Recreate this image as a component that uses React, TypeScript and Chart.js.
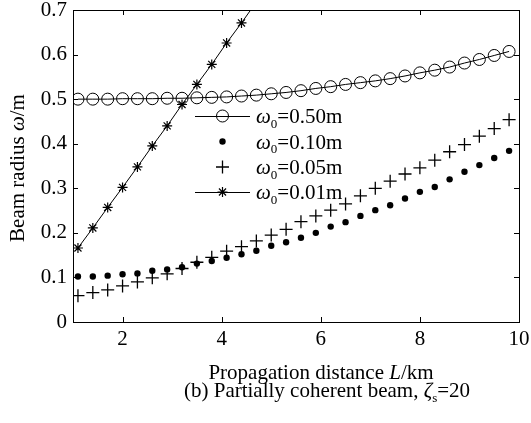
import React, { useEffect, useRef } from "react";
import { Chart, registerables } from "chart.js";

Chart.register(...registerables);

// Propagation distance L (km) at which each marker is plotted
const distances = [
  1.1, 1.4, 1.7, 2.0, 2.3, 2.6, 2.9, 3.2, 3.5, 3.8, 4.1, 4.4, 4.7, 5.0, 5.3,
  5.6, 5.9, 6.2, 6.5, 6.8, 7.1, 7.4, 7.7, 8.0, 8.3, 8.6, 8.9, 9.2, 9.5, 9.8,
];

// Beam radius (m) for each initial waist
const w050 = [
  0.5, 0.5, 0.5, 0.501, 0.501, 0.501, 0.502, 0.502, 0.503, 0.504, 0.505, 0.507,
  0.509, 0.512, 0.515, 0.519, 0.524, 0.528, 0.533, 0.537, 0.541, 0.546, 0.552,
  0.559, 0.565, 0.572, 0.581, 0.589, 0.598, 0.607,
];
const w010 = [
  0.102, 0.102, 0.104, 0.107, 0.109, 0.115, 0.118, 0.123, 0.131, 0.137, 0.144,
  0.152, 0.16, 0.171, 0.179, 0.189, 0.2, 0.214, 0.224, 0.238, 0.251, 0.262,
  0.277, 0.292, 0.303, 0.32, 0.337, 0.352, 0.368, 0.384,
];
const w005 = [
  0.059, 0.066, 0.072, 0.081, 0.09, 0.099, 0.108, 0.12, 0.134, 0.145, 0.159,
  0.169, 0.182, 0.195, 0.208, 0.225, 0.238, 0.251, 0.265, 0.283, 0.3, 0.316,
  0.332, 0.346, 0.363, 0.382, 0.398, 0.417, 0.434, 0.454,
];
const w001 = [
  0.166, 0.211, 0.257, 0.302, 0.348, 0.395, 0.44, 0.488, 0.533, 0.578, 0.626,
  0.671, 0.718,
];

const xTicks = [2, 4, 6, 8, 10];
const yTicks = [0, 0.1, 0.2, 0.3, 0.4, 0.5, 0.6, 0.7];
const legendValues = ["0.50m", "0.10m", "0.05m", "0.01m"];

type Seg = { t: string; it?: boolean; sub?: boolean };

const xTitle: Seg[] = [{ t: "Propagation distance " }, { t: "L", it: true }, { t: "/km" }];
const yTitle: Seg[] = [{ t: "Beam radius " }, { t: "ω", it: true }, { t: "/m" }];
const caption: Seg[] = [
  { t: "(b) Partially coherent beam, " },
  { t: "ζ", it: true },
  { t: "s", sub: true },
  { t: "=20" },
];

const FONT_FAMILY = '"Liberation Serif", "Times New Roman", Times, serif';
const FS = 21;

function fontFor(s: Seg, size: number) {
  return `${s.it ? "italic " : ""}${s.sub ? Math.round(size * 0.62) : size}px ${FONT_FAMILY}`;
}

function drawRich(
  ctx: CanvasRenderingContext2D,
  segs: Seg[],
  x: number,
  y: number,
  align: "left" | "center",
  size: number
) {
  ctx.save();
  ctx.textAlign = "left";
  ctx.textBaseline = "alphabetic";
  ctx.fillStyle = "#000";
  const widths = segs.map((s) => {
    ctx.font = fontFor(s, size);
    return ctx.measureText(s.t).width;
  });
  const total = widths.reduce((a, b) => a + b, 0);
  let cx = align === "center" ? x - total / 2 : x;
  segs.forEach((s, i) => {
    ctx.font = fontFor(s, size);
    ctx.fillText(s.t, cx, s.sub ? y + size * 0.22 : y);
    cx += widths[i];
  });
  ctx.restore();
}

function drawMarker(ctx: CanvasRenderingContext2D, kind: string, x: number, y: number) {
  ctx.save();
  ctx.strokeStyle = "#000";
  ctx.fillStyle = "#000";
  ctx.beginPath();
  if (kind === "circle") {
    ctx.lineWidth = 1;
    ctx.arc(x, y, 6, 0, Math.PI * 2);
    ctx.stroke();
  } else if (kind === "dot") {
    ctx.arc(x, y, 3.2, 0, Math.PI * 2);
    ctx.fill();
  } else if (kind === "plus") {
    ctx.lineWidth = 1.3;
    ctx.moveTo(x - 6.5, y);
    ctx.lineTo(x + 6.5, y);
    ctx.moveTo(x, y - 6.5);
    ctx.lineTo(x, y + 6.5);
    ctx.stroke();
  } else if (kind === "star") {
    ctx.lineWidth = 1.2;
    const r = 5;
    for (let k = 0; k < 4; k++) {
      const a = (k * Math.PI) / 4;
      ctx.moveTo(x - r * Math.cos(a), y - r * Math.sin(a));
      ctx.lineTo(x + r * Math.cos(a), y + r * Math.sin(a));
    }
    ctx.stroke();
  }
  ctx.restore();
}

const legendKinds = [
  { kind: "circle", line: true },
  { kind: "dot", line: false },
  { kind: "plus", line: false },
  { kind: "star", line: true },
];

const decorPlugin = {
  id: "decor",
  afterDatasetsDraw(chart: any) {
    const ctx: CanvasRenderingContext2D = chart.ctx;
    const { left, right, top, bottom } = chart.chartArea;
    const xs = chart.scales.x;
    const ys = chart.scales.y;
    ctx.save();
    ctx.strokeStyle = "#000";
    ctx.lineWidth = 1;
    // frame
    ctx.strokeRect(Math.round(left) + 0.5, Math.round(top) + 0.5, Math.round(right - left), Math.round(bottom - top));
    // inward ticks
    const tl = 5;
    ctx.beginPath();
    xTicks.forEach((v) => {
      const px = Math.round(xs.getPixelForValue(v)) + 0.5;
      ctx.moveTo(px, bottom);
      ctx.lineTo(px, bottom - tl);
      ctx.moveTo(px, top);
      ctx.lineTo(px, top + tl);
    });
    yTicks.forEach((v) => {
      const py = Math.round(ys.getPixelForValue(v)) + 0.5;
      ctx.moveTo(left, py);
      ctx.lineTo(left + tl, py);
      ctx.moveTo(right, py);
      ctx.lineTo(right - tl, py);
    });
    ctx.stroke();
    ctx.restore();

    // legend
    const rowY = [116, 141.5, 167, 192];
    legendKinds.forEach((lk, i) => {
      const y = rowY[i];
      if (lk.line) {
        ctx.save();
        ctx.strokeStyle = "#000";
        ctx.lineWidth = 1;
        ctx.beginPath();
        ctx.moveTo(195, y + 0.5);
        ctx.lineTo(250, y + 0.5);
        ctx.stroke();
        ctx.restore();
      }
      drawMarker(ctx, lk.kind, 222.5, y);
      drawRich(
        ctx,
        [{ t: "ω", it: true }, { t: "0", sub: true }, { t: "=" + legendValues[i] }],
        256,
        y + 7,
        "left",
        FS
      );
    });

    // axis titles and caption
    drawRich(ctx, xTitle, 321, 379, "center", FS);
    drawRich(ctx, caption, 327, 397, "center", FS);
    ctx.save();
    ctx.translate(24, 168);
    ctx.rotate(-Math.PI / 2);
    drawRich(ctx, yTitle, 0, 0, "center", FS);
    ctx.restore();
  },
};

export default function App() {
  const canvasRef = useRef<HTMLCanvasElement | null>(null);

  useEffect(() => {
    if (!canvasRef.current) return;
    const pts = (arr: number[]) => arr.map((v, i) => ({ x: distances[i], y: v }));
    const chart = new Chart(canvasRef.current, {
      type: "line",
      data: {
        datasets: [
          {
            label: "ω0=0.50m",
            data: pts(w050),
            borderColor: "#000",
            borderWidth: 1,
            pointStyle: "circle",
            pointRadius: 6,
            pointBorderWidth: 1,
            pointBorderColor: "#000",
            pointBackgroundColor: "rgba(0,0,0,0)",
            showLine: true,
            tension: 0,
          },
          {
            label: "ω0=0.10m",
            data: pts(w010),
            borderColor: "#000",
            showLine: false,
            pointStyle: "circle",
            pointRadius: 3.2,
            pointBorderWidth: 0,
            pointBackgroundColor: "#000",
          },
          {
            label: "ω0=0.05m",
            data: pts(w005),
            borderColor: "#000",
            showLine: false,
            pointStyle: "cross",
            pointRadius: 6.5,
            pointBorderWidth: 1.3,
            pointBorderColor: "#000",
          },
          {
            label: "ω0=0.01m",
            data: pts(w001),
            borderColor: "#000",
            borderWidth: 1,
            pointStyle: "star",
            pointRadius: 5,
            pointBorderWidth: 1.2,
            pointBorderColor: "#000",
            showLine: true,
            tension: 0,
          },
        ],
      },
      options: {
        animation: false,
        responsive: false,
        events: [],
        layout: { padding: { top: 10, right: 12, left: 0, bottom: 0 } },
        plugins: {
          legend: { display: false },
          tooltip: { enabled: false },
        },
        scales: {
          x: {
            type: "linear",
            min: 1,
            max: 10,
            grid: { display: false, drawTicks: false, tickLength: 0 },
            border: { display: false },
            afterBuildTicks: (s: any) => {
              s.ticks = xTicks.map((v) => ({ value: v }));
            },
            afterFit: (s: any) => {
              s.height = 101;
              s.paddingLeft = 0;
              s.paddingRight = 0;
              s.paddingTop = 0;
              s.paddingBottom = 0;
            },
            ticks: {
              color: "#000",
              padding: 5,
              maxRotation: 0,
              autoSkip: false,
              font: { family: FONT_FAMILY, size: FS },
              callback: (v: any) => String(v),
            },
          },
          y: {
            type: "linear",
            min: 0,
            max: 0.7,
            grid: { display: false, drawTicks: false, tickLength: 0 },
            border: { display: false },
            afterBuildTicks: (s: any) => {
              s.ticks = yTicks.map((v) => ({ value: v }));
            },
            afterFit: (s: any) => {
              s.width = 73;
              s.paddingLeft = 0;
              s.paddingRight = 0;
              s.paddingTop = 0;
              s.paddingBottom = 0;
            },
            ticks: {
              color: "#000",
              padding: 6,
              autoSkip: false,
              font: { family: FONT_FAMILY, size: FS },
              callback: (v: any) => String(+Number(v).toFixed(1)),
            },
          },
        },
      },
      plugins: [decorPlugin],
    } as any);
    return () => chart.destroy();
  }, []);

  return (
    <div
      style={{
        position: "absolute",
        left: 0,
        top: 0,
        width: 531,
        height: 423,
        background: "#fff",
      }}
    >
      <canvas ref={canvasRef} width={531} height={423} style={{ width: 531, height: 423, display: "block" }} />
    </div>
  );
}
